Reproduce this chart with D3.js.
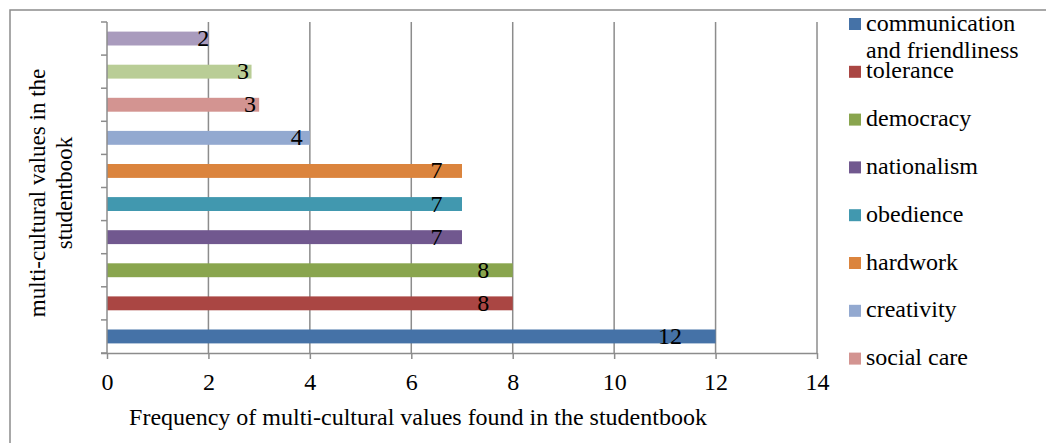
<!DOCTYPE html>
<html>
<head>
<meta charset="utf-8">
<script src="https://cdn.jsdelivr.net/npm/d3@7/dist/d3.min.js"></script>
<style>
  html, body { margin: 0; padding: 0; background: #fff; }
  svg { display: block; }
  text, tspan { font-family: "Liberation Serif", "Times New Roman", serif; fill: #000; }
</style>
</head>
<body>
<svg id="chart" width="1046" height="443"></svg>
<script>
// ---- data (bottom to top) ----
const categories = ["communication and friendliness", "tolerance", "democracy", "nationalism",
                    "obedience", "hardwork", "creativity", "social care", "category 9", "category 10"];
const values = [12, 8, 8, 7, 7, 7, 4, 3, 2.85, 2];
const colors = ["#4572A7", "#AA4643", "#89A54E", "#71588F", "#4198AF",
                "#DB843D", "#93A9D0", "#D39491", "#B9CD96", "#A99BBD"];
const xTicks = [0, 2, 4, 6, 8, 10, 12, 14];
const legendCount = 8; // only 8 entries visible in the legend
const xTitle = "Frequency of multi-cultural values found in the studentbook";
const yTitleLines = ["multi-cultural  values in the", "studentbook"];

const FF = '"Liberation Serif", "Times New Roman", serif';
const svg = d3.select("#chart").attr("font-family", FF);
const FS = 24;
const grid = "#8C8C8C";

// outer frame
svg.append("rect").attr("x", 10).attr("y", 10).attr("width", 1040).attr("height", 440)
  .attr("fill", "none").attr("stroke", "#8C8C8C").attr("stroke-width", 1.5);

const plot = {left: 107, right: 817, top: 22, bottom: 353};
const x = d3.scaleLinear().domain([0, 14]).range([plot.left, plot.right]);
const y = d3.scaleBand().domain(d3.range(categories.length)).range([plot.bottom, plot.top])
  .paddingInner(0.58).paddingOuter(0.29);

// gridlines
svg.append("g").selectAll("line").data(xTicks.slice(1)).join("line")
  .attr("x1", d => x(d)).attr("x2", d => x(d))
  .attr("y1", plot.top).attr("y2", plot.bottom)
  .attr("stroke", grid).attr("stroke-width", 1.5);

// bars
svg.append("g").selectAll("rect").data(values).join("rect")
  .attr("x", x(0)).attr("y", (d, i) => y(i))
  .attr("width", d => x(d) - x(0)).attr("height", y.bandwidth())
  .attr("fill", (d, i) => colors[i]);

// y axis (category boundaries ticks)
const yAxis = svg.append("g");
yAxis.append("line").attr("x1", plot.left).attr("x2", plot.left)
  .attr("y1", plot.top).attr("y2", plot.bottom).attr("stroke", grid).attr("stroke-width", 1.5);
const step = y.step();
yAxis.selectAll("line.tk").data(d3.range(categories.length + 1)).join("line").attr("class", "tk")
  .attr("x1", plot.left - 6).attr("x2", plot.left)
  .attr("y1", i => plot.bottom - i * step).attr("y2", i => plot.bottom - i * step)
  .attr("stroke", grid).attr("stroke-width", 1.5);

// x axis
const xAxis = svg.append("g").attr("transform", `translate(0,${plot.bottom})`)
  .call(d3.axisBottom(x).tickValues(xTicks).tickSize(6).tickSizeOuter(0));
xAxis.attr("font-family", FF).attr("font-size", FS);
xAxis.select(".domain").attr("stroke", grid).attr("stroke-width", 1.5)
  .attr("d", `M${plot.left - 6},0.5H${plot.right}`);
xAxis.selectAll(".tick line").attr("stroke", grid).attr("stroke-width", 1.5);
xAxis.selectAll(".tick text").attr("font-size", FS).attr("font-family", FF).attr("fill", "#000")
  .attr("dy", null).attr("y", 37);

// data labels
svg.append("g").selectAll("text").data(values).join("text")
  .attr("x", d => x(d * 0.92) + 3)
  .attr("y", (d, i) => y(i) + y.bandwidth() / 2 + 7.5)
  .attr("text-anchor", "middle").attr("font-size", FS).attr("font-family", FF)
  .text(d => d3.format(".0f")(d));

// x title
svg.append("text").attr("x", 418).attr("y", 425).attr("text-anchor", "middle")
  .attr("font-size", FS).attr("font-family", FF).text(xTitle);

// y title
const yt = svg.append("text").attr("transform", "translate(0,193) rotate(-90)")
  .attr("text-anchor", "middle").attr("font-size", 23).attr("font-family", FF);
yTitleLines.forEach((t, i) => {
  yt.append("tspan").attr("x", 0).attr("y", 45 + i * 26.7).text(t);
});

// legend
const lg = svg.append("g").attr("transform", "translate(849,18)");
const rowH = 47.8;
const legendItems = d3.range(legendCount);
const li = lg.selectAll("g").data(legendItems).join("g")
  .attr("transform", i => `translate(0,${i * rowH})`);
li.append("rect").attr("width", 12).attr("height", 12).attr("fill", i => colors[i]);
li.each(function(i) {
  const g = d3.select(this);
  const name = categories[i];
  const t = g.append("text").attr("x", 17).attr("y", 12.5).attr("font-size", FS).attr("font-family", FF);
  if (name === "communication and friendliness") {
    t.append("tspan").attr("x", 17).attr("y", 12.5).text("communication");
    t.append("tspan").attr("x", 17).attr("y", 39.5).text("and friendliness");
  } else {
    t.text(name);
  }
});
</script>
</body>
</html>
